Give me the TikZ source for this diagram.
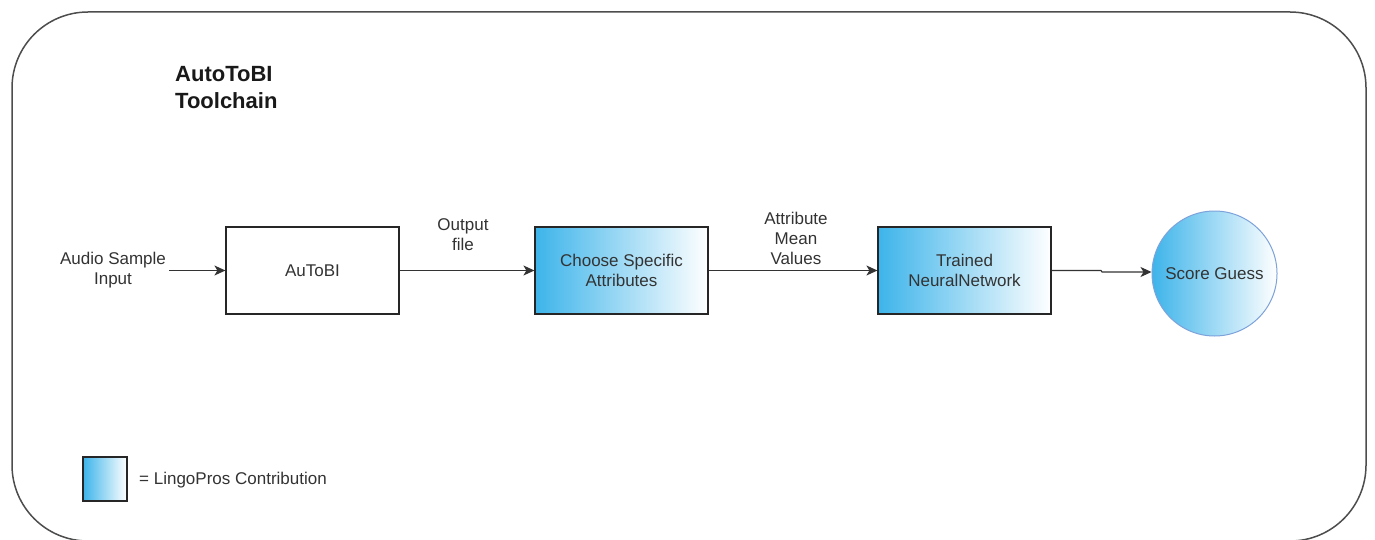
\documentclass[tikz,border=0pt]{standalone}
\usepackage{fontspec}
\setmainfont{Liberation Sans}
\usetikzlibrary{arrows.meta}
\definecolor{txt}{HTML}{333333}
\definecolor{gradl}{HTML}{3DB4EA}
\definecolor{circd}{HTML}{7EA2DA}
\definecolor{frame}{HTML}{4D4D4D}
\begin{document}
\begin{tikzpicture}[x=1pt,y=-1pt,
  lbl/.style={font=\fontsize{17}{20}\selectfont, text=txt, align=center, inner sep=3pt},
  plainbox/.style={draw=black!85, line width=1.2pt, minimum width=173pt, minimum height=87pt, inner sep=0pt, lbl},
  gradbox/.style={plainbox, left color=gradl, right color=white},
  conn/.style={draw=black!80, line width=1.1pt, -{Stealth[length=11pt,width=10pt,inset=3pt]}}
]
\useasboundingbox (0,0) rectangle (1375,540);
\fill[white] (0,0) rectangle (1375,540);
\draw[frame, line width=1.5pt, rounded corners=76pt] (12,12) rectangle (1366,541);

\node[font=\bfseries\fontsize{22}{27}\selectfont, text=black!90, align=left, anchor=north west, inner sep=0pt] (title) at (175,66) {AutoToBI\\Toolchain};

\node[lbl] (asi) at (113,270.5) {Audio Sample\\Input};
\node[plainbox] (ab) at (312.5,270.5) {AuToBI};
\node[gradbox] (cs) at (621.5,270.5) {Choose Specific\\Attributes};
\node[gradbox] (tn) at (964.5,270.5) {Trained\\NeuralNetwork};
\node[circle, draw=circd, line width=1pt, minimum size=125pt, inner sep=0pt, left color=gradl, right color=white, lbl] (sg) at (1214.5,273.5) {Score Guess};

\node[lbl] (of) at (463,235) {Output\\file};
\node[lbl] (amv) at (796,238) {Attribute\\Mean\\Values};

\coordinate (j1) at (1101,270.5);
\coordinate (j2) at (1102,272);

\draw[conn] (asi.east) -- (ab.west);
\draw[conn] (ab.east) -- (cs.west);
\draw[conn] (cs.east) -- (tn.west);
\draw[conn] (tn.east) -- (j1) -- (j2) -- (j2 -| sg.west);

\node[draw=black!85, line width=1.2pt, minimum size=44pt, inner sep=0pt, left color=gradl, right color=white] (leg) at (105,479) {};
\node[lbl, anchor=west] (legt) at (136,480) {= LingoPros Contribution};
\end{tikzpicture}
\end{document}
